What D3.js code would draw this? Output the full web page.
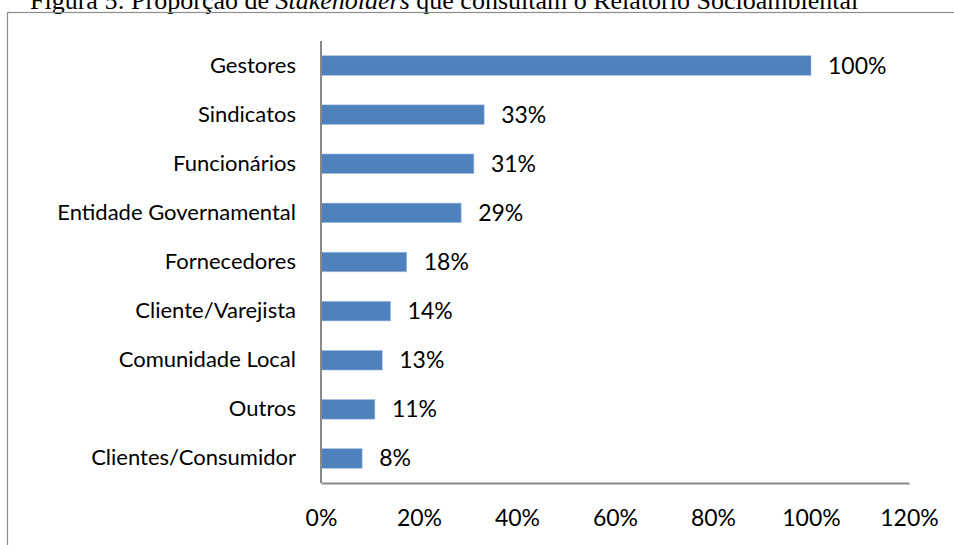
<!DOCTYPE html>
<meta charset="utf-8">
<style>
body { margin: 0; background: #fff; }
.title { font-family: "Liberation Serif", "Times New Roman", serif; font-size: 26px; }
.lbl { font-family: Lato, "Open Sans", sans-serif; font-size: 22px; fill: #000; }
.num { font-size: 23px; }
.bar { fill: #4f81bd; stroke: #a9c2e2; stroke-width: 0.6; }
</style>
<body>
<script src="https://d3js.org/d3.v7.min.js"></script>
<script>

// data
var categories = ["Gestores", "Sindicatos", "Funcionários", "Entidade Governamental",
                  "Fornecedores", "Cliente/Varejista", "Comunidade Local", "Outros",
                  "Clientes/Consumidor"];
var values = [100, 33.3, 31.2, 28.6, 17.5, 14.2, 12.5, 11.0, 8.4];
var ticks = [0, 20, 40, 60, 80, 100, 120];

var width = 954, height = 545;
var margin = {top: 41, right: 45, bottom: 62, left: 321};

var svg = d3.select("body").append("svg")
    .attr("width", width)
    .attr("height", height);

// caption, cut off at the top like the scan
svg.append("text")
    .attr("class", "title")
    .attr("x", 30)
    .attr("y", 9)
    .call(function(t) {
      t.append("tspan").text("Figura 5: Proporção de ");
      t.append("tspan").style("font-style", "italic").text("Stakeholders");
      t.append("tspan").text(" que consultam o Relatório Socioambiental");
    });

// outer frame
svg.append("rect")
    .attr("x", 7.5).attr("y", 12.5)
    .attr("width", 1000).attr("height", 600)
    .attr("fill", "none")
    .attr("stroke", "#8c8c8c")
    .attr("stroke-width", 1.2);

var x = d3.scaleLinear()
    .domain([0, 120])
    .range([margin.left, width - margin.right]);

var y = d3.scaleBand()
    .domain(categories)
    .range([margin.top, height - margin.bottom])
    .paddingInner(0.6)
    .paddingOuter(0.3);

var g = svg.append("g");

// bars
g.selectAll(".bar")
    .data(values)
    .enter()
    .append("rect")
    .attr("class", "bar")
    .attr("x", x(0))
    .attr("y", function(d, i) { return y(categories[i]); })
    .attr("width", function(d) { return x(d) - x(0); })
    .attr("height", y.bandwidth());

// value labels
g.selectAll(".val")
    .data(values)
    .enter()
    .append("text")
    .attr("class", "lbl num")
    .attr("x", function(d) { return x(d) + 17; })
    .attr("y", function(d, i) { return y(categories[i]) + y.bandwidth() / 2; })
    .attr("dy", "0.35em")
    .text(function(d) { return Math.round(d) + "%"; });

// category axis
var yAxis = svg.append("g")
    .attr("transform", "translate(" + x(0) + ",0)")
    .call(d3.axisLeft(y).tickSize(0).tickPadding(25));
yAxis.select(".domain").attr("stroke", "#898989").attr("stroke-width", 2)
    .attr("d", "M0," + margin.top + "V" + (height - margin.bottom));
yAxis.selectAll("text").attr("class", "lbl").attr("font-family", null).attr("font-size", null);

// value axis
var xAxis = svg.append("g")
    .attr("transform", "translate(0," + (height - margin.bottom) + ")")
    .call(d3.axisBottom(x).tickValues(ticks).tickSize(0).tickPadding(27)
      .tickFormat(function(d) { return d + "%"; }));
xAxis.select(".domain").attr("stroke", "#898989").attr("stroke-width", 2);
xAxis.selectAll("text").attr("class", "lbl num").attr("font-family", null).attr("font-size", null);

</script>
</body>
